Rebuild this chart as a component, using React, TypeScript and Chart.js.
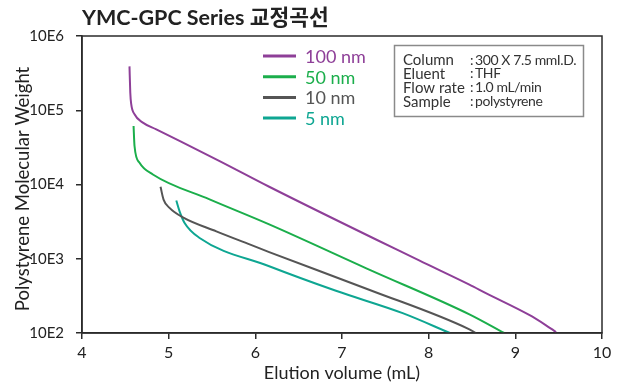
import React, { useEffect, useRef } from "react";
import { Chart, registerables } from "chart.js";

Chart.register(...registerables);

const TITLE = "YMC-GPC Series 교정곡선";
const X_TITLE = "Elution volume (mL)";
const Y_TITLE = "Polystyrene Molecular Weight";

const X_TICKS = [4, 5, 6, 7, 8, 9, 10];
const Y_TICK_VALUES = [100, 1000, 10000, 100000, 1000000];
const Y_TICK_LABELS = ["10E2", "10E3", "10E4", "10E5", "10E6"];

const SERIES_LABELS = ["100 nm", "50 nm", "10 nm", "5 nm"];
const SERIES_COLORS = ["#8e3f98", "#1bae4b", "#555555", "#0ea692"];

const X_100 = [4.548, 4.557, 4.568, 4.606, 4.702, 4.857, 5.588, 6.16, 7.89, 8.47, 8.66, 9.16, 9.35, 9.47];
const Y_100 = [390000, 173000, 120500, 88300, 68200, 55300, 20700, 9330, 948, 447, 344, 175, 128, 103];

const X_50 = [4.595, 4.606, 4.664, 4.818, 5.472, 6.16, 7.32, 8.47, 8.87];
const Y_50 = [61400, 33000, 19600, 13650, 6300, 2900, 708, 178, 100];

const X_10 = [4.906, 4.941, 5.01, 5.164, 5.55, 5.934, 6.16, 7.32, 8.47, 8.545];
const Y_10 = [9310, 6270, 4840, 3610, 2340, 1560, 1230, 380, 112, 100];

const X_5 = [5.088, 5.126, 5.184, 5.357, 6.16, 6.93, 7.7, 8.245];
const Y_5 = [6080, 4350, 3030, 1905, 792, 370, 185, 100];

const SERIES_X = [X_100, X_50, X_10, X_5];
const SERIES_Y = [Y_100, Y_50, Y_10, Y_5];

const INFO_KEYS = ["Column", "Eluent", "Flow rate", "Sample"];
const INFO_VALUES = ["300 X 7.5 mmI.D.", "THF", "1.0 mL/min", "polystyrene"];

const FONT = "Lato, 'Noto Sans', sans-serif";
const AXIS_COLOR = "#2b2b2b";

const decorPlugin = {
  id: "decor",
  afterDraw(chart: any) {
    const { ctx, chartArea } = chart;
    ctx.save();
    // frame
    ctx.strokeStyle = AXIS_COLOR;
    ctx.lineWidth = 1.5;
    ctx.strokeRect(chartArea.left, chartArea.top, chartArea.right - chartArea.left, chartArea.bottom - chartArea.top);

    // title
    ctx.fillStyle = "#222";
    ctx.font = `bold 21.5px Lato, 'Noto Sans CJK KR', sans-serif`;
    ctx.textAlign = "left";
    ctx.textBaseline = "alphabetic";
    ctx.fillText(TITLE, 82, 25);

    // y axis title
    ctx.save();
    ctx.translate(23, 189);
    ctx.rotate(-Math.PI / 2);
    ctx.font = `18.5px ${FONT}`;
    ctx.textAlign = "center";
    ctx.textBaseline = "middle";
    ctx.fillStyle = "#222";
    ctx.fillText(Y_TITLE, 0, 0);
    ctx.restore();

    // legend
    const ds = chart.data.datasets;
    ds.forEach((d: any, i: number) => {
      const y = 56 + i * 20.7;
      ctx.strokeStyle = d.borderColor;
      ctx.lineWidth = 3;
      ctx.beginPath();
      ctx.moveTo(263, y);
      ctx.lineTo(296, y);
      ctx.stroke();
      ctx.fillStyle = d.borderColor;
      ctx.font = `18px ${FONT}`;
      ctx.textAlign = "left";
      ctx.textBaseline = "middle";
      ctx.fillText(d.label, 305, y + 1);
    });

    // info box
    ctx.strokeStyle = "#8a8a8a";
    ctx.lineWidth = 1.5;
    ctx.strokeRect(394.5, 45.5, 189, 71);
    ctx.fillStyle = "#333";
    ctx.textAlign = "left";
    ctx.textBaseline = "middle";
    INFO_KEYS.forEach((k, i) => {
      const y = 60 + i * 13.9;
      ctx.font = `15px ${FONT}`;
      ctx.fillText(k, 403, y);
      ctx.font = `14px ${FONT}`;
      ctx.fillText(":", 470, y);
      (ctx as any).letterSpacing = "-0.4px";
      ctx.fillText(INFO_VALUES[i], 475, y);
      (ctx as any).letterSpacing = "0px";
    });
    ctx.restore();
  },
};

export default function App() {
  const ref = useRef<HTMLCanvasElement>(null);

  useEffect(() => {
    document.body.style.margin = "0";
    const canvas = ref.current!;
    const chart = new Chart(canvas, {
      type: "line",
      data: {
        datasets: SERIES_LABELS.map((label, i) => ({
          label,
          data: SERIES_X[i].map((x, j) => ({ x, y: SERIES_Y[i][j] })),
          borderColor: SERIES_COLORS[i],
          backgroundColor: SERIES_COLORS[i],
          borderWidth: 2,
          pointRadius: 0,
          fill: false,
          cubicInterpolationMode: "monotone" as const,
        })),
      },
      options: {
        responsive: false,
        animation: false,
        layout: { padding: { top: 36, right: 18, bottom: 0, left: 0 } },
        plugins: {
          legend: { display: false },
          tooltip: { enabled: false },
          title: { display: false },
        },
        scales: {
          x: {
            type: "linear",
            min: 4,
            max: 10,
            afterBuildTicks: (scale: any) => {
              scale.ticks = X_TICKS.map((v) => ({ value: v }));
            },
            afterFit: (scale: any) => {
              scale.height = 52;
            },
            ticks: {
              font: { family: FONT, size: 16 },
              color: "#222",
              padding: 4,
              maxRotation: 0,
            },
            grid: {
              drawOnChartArea: false,
              tickLength: 6,
              color: AXIS_COLOR,
              lineWidth: 1.5,
            },
            border: { color: AXIS_COLOR, width: 1.5 },
            title: {
              display: true,
              text: X_TITLE,
              font: { family: FONT, size: 18 },
              color: "#222",
              padding: { top: 0, bottom: 1 },
            },
          },
          y: {
            type: "logarithmic",
            min: 100,
            max: 1000000,
            afterBuildTicks: (scale: any) => {
              scale.ticks = Y_TICK_VALUES.map((v) => ({ value: v }));
            },
            afterFit: (scale: any) => {
              scale.width = 82;
            },
            ticks: {
              font: { family: FONT, size: 15 },
              color: "#222",
              padding: 12,
              callback: (v: any) => {
                const idx = Y_TICK_VALUES.indexOf(Number(v));
                return idx >= 0 ? Y_TICK_LABELS[idx] : "";
              },
            },
            grid: {
              drawOnChartArea: false,
              tickLength: 6,
              color: AXIS_COLOR,
              lineWidth: 1.5,
            },
            border: { color: AXIS_COLOR, width: 1.5 },
            title: { display: false },
          },
        },
      },
      plugins: [decorPlugin],
    });
    return () => chart.destroy();
  }, []);

  return (
    <div style={{ position: "absolute", left: 0, top: 0, width: 620, height: 385 }}>
      <canvas ref={ref} width={620} height={385} style={{ width: 620, height: 385 }} />
    </div>
  );
}
